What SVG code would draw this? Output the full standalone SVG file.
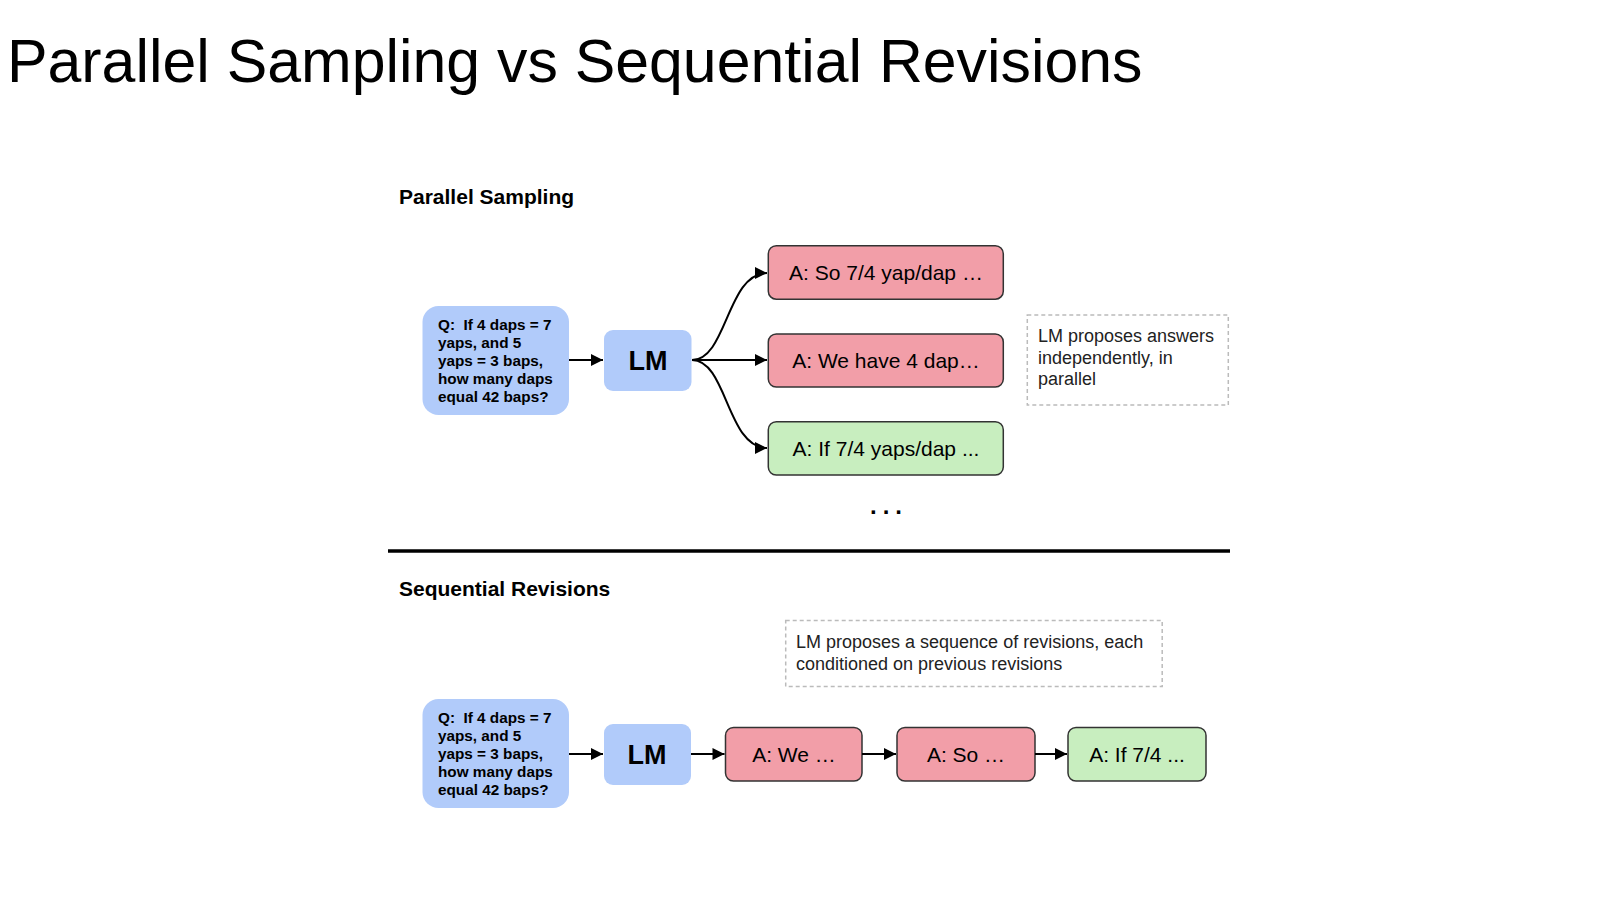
<svg xmlns="http://www.w3.org/2000/svg" width="1600" height="899" viewBox="0 0 1600 899">
<style>
text{font-family:"Liberation Sans",Arial,sans-serif;fill:#000}
.title{font-size:60.8px}
.sec{font-size:21px;font-weight:bold}
.q{fill:#b1cbfa}
.qt{font-size:15.3px;font-weight:bold;white-space:pre}
.lm{fill:#b1cbfa}
.lmt{font-size:27px;font-weight:bold}
.red{fill:#f29ea8;stroke:#333;stroke-width:1.5}
.green{fill:#c8eebf;stroke:#333;stroke-width:1.5}
.at{font-size:21px}
.note{fill:none;stroke:#bbb;stroke-width:1.5;stroke-dasharray:4 3}
.nt{font-size:18px;fill:#222}
.conn{fill:none;stroke:#000;stroke-width:2;marker-end:url(#arr)}
</style>
<defs>
<marker id="arr" viewBox="0 0 10 10" refX="10" refY="5" markerWidth="6.5" markerHeight="6" markerUnits="strokeWidth" orient="auto">
<path d="M0,0 L10,5 L0,10 z" fill="#000"/>
</marker>
</defs>
<rect width="1600" height="899" fill="#fff"/>
<text class="title" x="7" y="82">Parallel Sampling vs Sequential Revisions</text>
<text class="sec" x="399" y="204">Parallel Sampling</text>
<text class="sec" x="399" y="596">Sequential Revisions</text>
<line x1="388" y1="551" x2="1230" y2="551" stroke="#000" stroke-width="3.5"/>

<g id="p-q">
<rect class="q" x="422.5" y="306" width="146.5" height="109" rx="16"/>
<text class="qt" x="438" y="330" xml:space="preserve">Q:  If 4 daps = 7</text>
<text class="qt" x="438" y="348">yaps, and 5</text>
<text class="qt" x="438" y="366">yaps = 3 baps,</text>
<text class="qt" x="438" y="384">how many daps</text>
<text class="qt" x="438" y="402">equal 42 baps?</text>
</g>
<g id="p-lm">
<rect class="lm" x="604" y="330" width="87.5" height="61" rx="9"/>
<text class="lmt" x="648" y="370" text-anchor="middle">LM</text>
</g>
<g id="p-a1">
<rect class="red" x="768.3" y="245.7" width="235" height="53.5" rx="8"/>
<text class="at" x="886" y="280" text-anchor="middle">A: So 7/4 yap/dap …</text>
</g>
<g id="p-a2">
<rect class="red" x="768.3" y="334" width="235" height="53" rx="8"/>
<text class="at" x="886" y="367.5" text-anchor="middle">A: We have 4 dap…</text>
</g>
<g id="p-a3">
<rect class="green" x="768.3" y="421.7" width="235" height="53.3" rx="8"/>
<text class="at" x="886" y="456" text-anchor="middle">A: If 7/4 yaps/dap ...</text>
</g>
<g id="p-note">
<rect class="note" x="1027.3" y="315" width="201" height="90"/>
<text class="nt" x="1038" y="342">LM proposes answers</text>
<text class="nt" x="1038" y="363.5">independently, in</text>
<text class="nt" x="1038" y="385">parallel</text>
</g>
<g id="p-dots">
<text x="889" y="514" font-size="24" font-weight="bold" text-anchor="middle" letter-spacing="6">...</text>
</g>

<g id="s-q">
<rect class="q" x="422.5" y="699" width="146.5" height="109" rx="16"/>
<text class="qt" x="438" y="723" xml:space="preserve">Q:  If 4 daps = 7</text>
<text class="qt" x="438" y="741">yaps, and 5</text>
<text class="qt" x="438" y="759">yaps = 3 baps,</text>
<text class="qt" x="438" y="777">how many daps</text>
<text class="qt" x="438" y="795">equal 42 baps?</text>
</g>
<g id="s-lm">
<rect class="lm" x="604" y="724" width="87" height="61" rx="9"/>
<text class="lmt" x="647" y="764" text-anchor="middle">LM</text>
</g>
<g id="s-a1">
<rect class="red" x="725.5" y="727.5" width="136.5" height="53.5" rx="8"/>
<text class="at" x="794" y="762" text-anchor="middle">A: We …</text>
</g>
<g id="s-a2">
<rect class="red" x="897" y="727.5" width="138" height="53.5" rx="8"/>
<text class="at" x="966" y="762" text-anchor="middle">A: So …</text>
</g>
<g id="s-a3">
<rect class="green" x="1068" y="727.5" width="138" height="53.5" rx="8"/>
<text class="at" x="1137" y="762" text-anchor="middle">A: If 7/4 ...</text>
</g>
<g id="s-note">
<rect class="note" x="785.7" y="620.5" width="376.5" height="66"/>
<text class="nt" x="796" y="648">LM proposes a sequence of revisions, each</text>
<text class="nt" x="796" y="669.5">conditioned on previous revisions</text>
</g>

<g id="connectors">
<line class="conn" x1="569" y1="360" x2="603" y2="360"/>
<path class="conn" d="M692,360 C727,360 727,273 767,273"/>
<line class="conn" x1="692" y1="360" x2="767" y2="360"/>
<path class="conn" d="M692,360 C727,360 727,448 767,448"/>
<line class="conn" x1="569" y1="754" x2="603" y2="754"/>
<line class="conn" x1="691" y1="754" x2="724.5" y2="754"/>
<line class="conn" x1="862" y1="754" x2="896" y2="754"/>
<line class="conn" x1="1035" y1="754" x2="1067" y2="754"/>
</g>
</svg>
